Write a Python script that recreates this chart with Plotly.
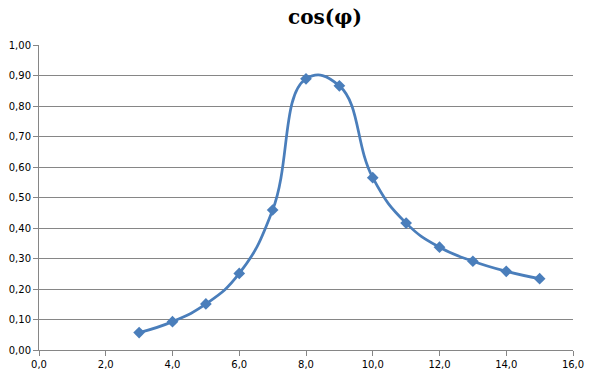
import plotly.graph_objects as go

x_values = [3, 4, 5, 6, 7, 8, 9, 10, 11, 12, 13, 14, 15]
cos_phi = [0.057, 0.093, 0.151, 0.251, 0.459, 0.889, 0.866, 0.565, 0.416, 0.337, 0.291, 0.258, 0.234]
title_text = "cos(φ)"

fig = go.Figure()
fig.add_trace(go.Scatter(
    x=x_values, y=cos_phi,
    mode="lines+markers",
    line=dict(color="#4A7EBB", width=2.75, shape="spline", smoothing=1.3),
    marker=dict(symbol="diamond", size=9, color="#4A7EBB"),
    showlegend=False,
))

axis_color = "#868686"
fig.update_layout(
    width=594, height=379,
    margin=dict(l=39, r=21, t=45, b=29, autoexpand=False),
    paper_bgcolor="white", plot_bgcolor="white",
    separators=", ",
    title=dict(text=f"<b>{title_text}</b>", x=325/594, xanchor="center", y=1-17/379, yanchor="middle",
               font=dict(family="DejaVu Serif", size=20, color="black")),
    xaxis=dict(range=[0, 16], tickmode="linear", tick0=0, dtick=2, tickformat=".1f",
               automargin=False,
               showgrid=False, zeroline=False, showline=True, linecolor=axis_color, linewidth=1,
               ticks="outside", ticklen=5, tickcolor=axis_color,
               tickfont=dict(family="DejaVu Sans", size=10, color="black")),
    yaxis=dict(range=[0, 1], tickmode="linear", tick0=0, dtick=0.1, tickformat=".2f",
               automargin=False,
               showgrid=True, gridcolor=axis_color, gridwidth=1, zeroline=False,
               showline=True, linecolor=axis_color, linewidth=1,
               ticks="outside", ticklen=5, tickcolor=axis_color,
               tickfont=dict(family="DejaVu Sans", size=10, color="black")),
)
fig.write_html("out.html", config={"displayModeBar": False},
               post_script="document.body.style.margin='0';")
